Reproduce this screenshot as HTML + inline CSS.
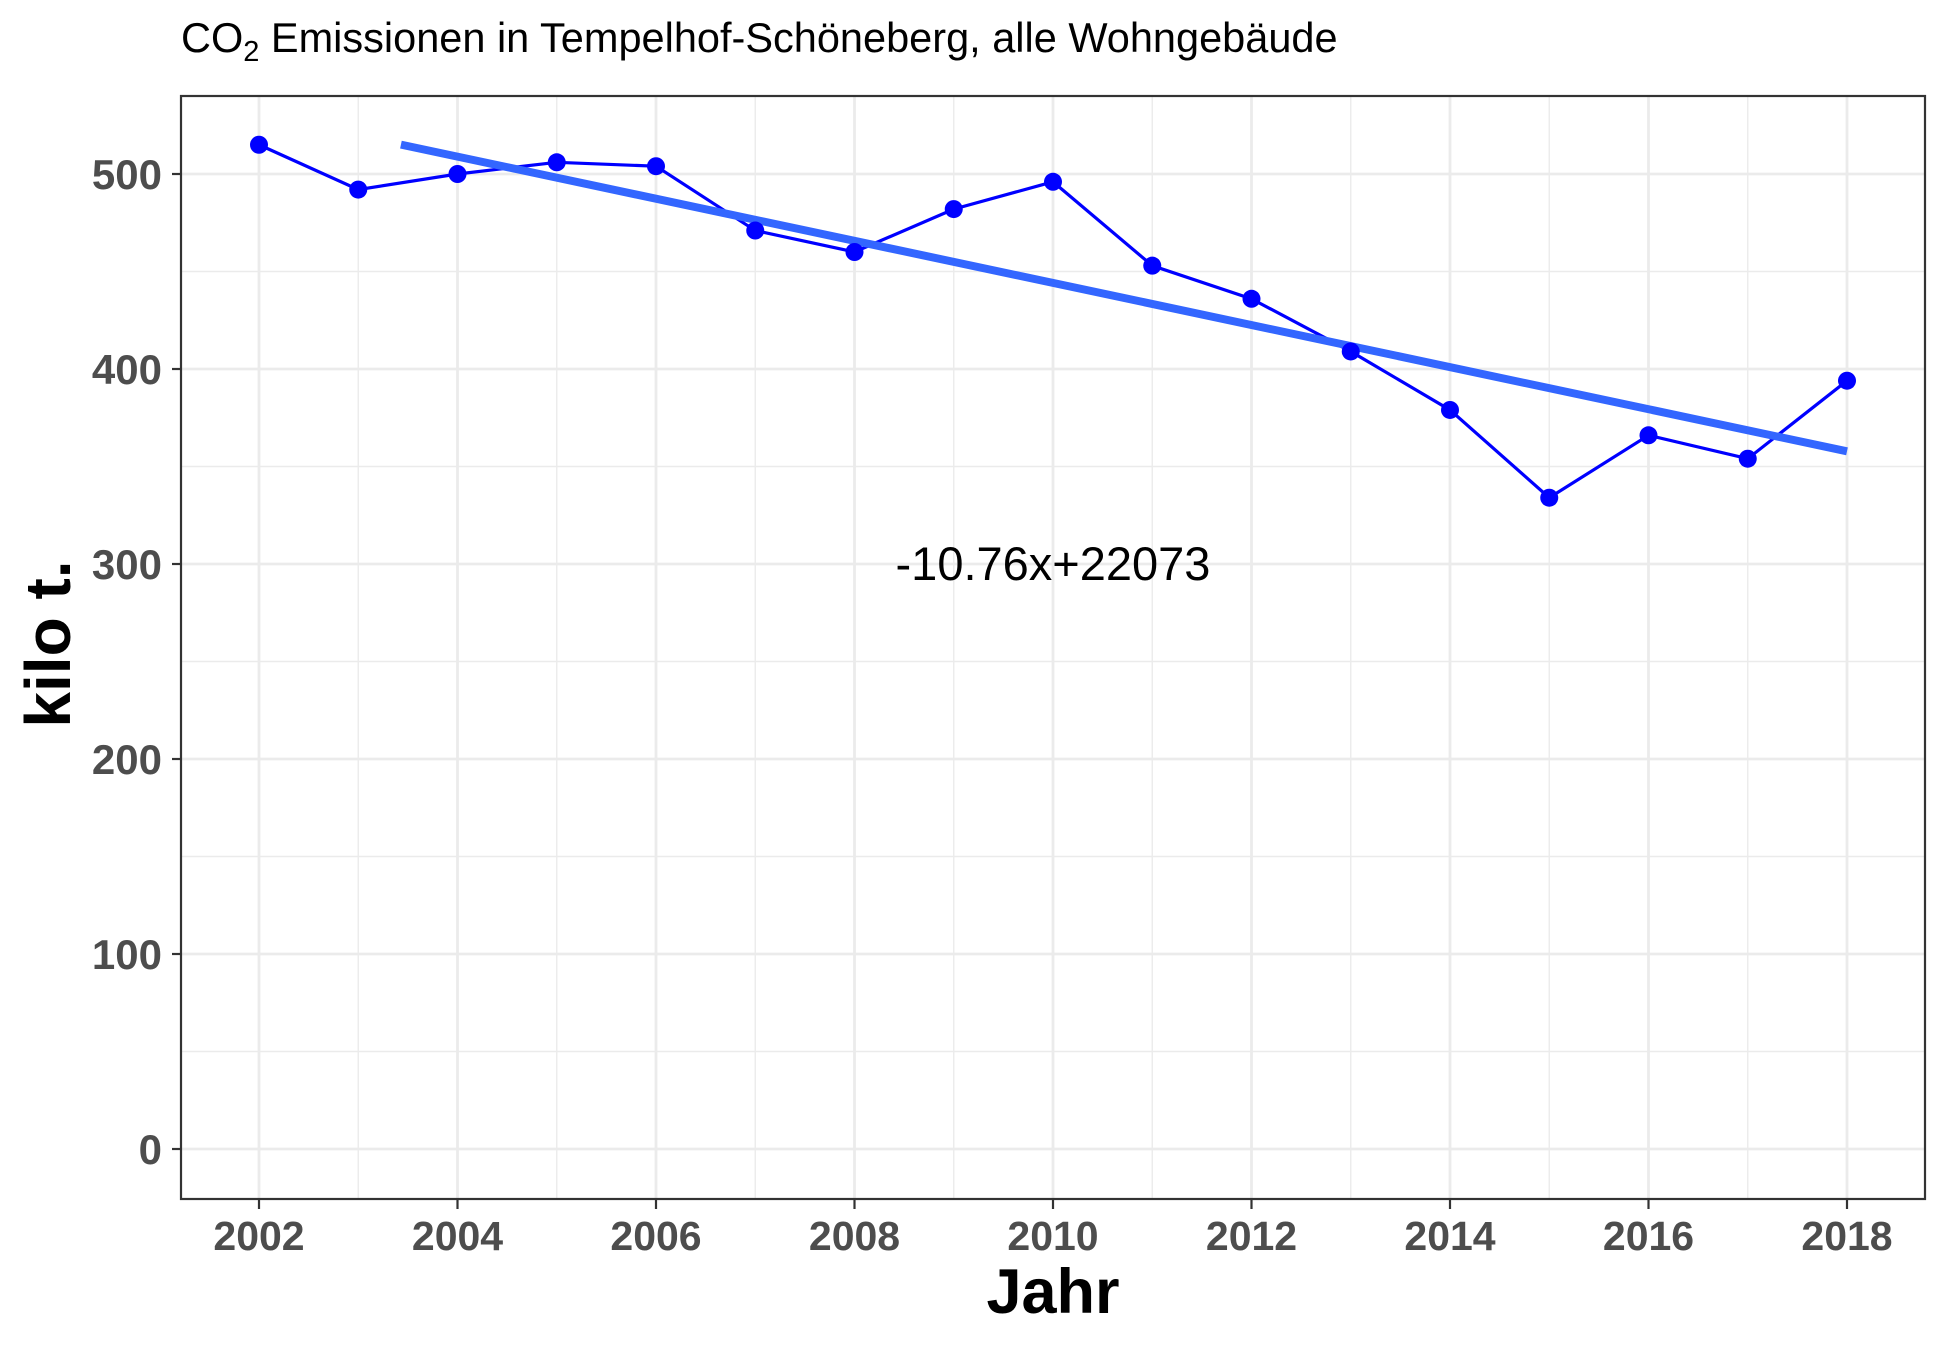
<!DOCTYPE html>
<html><head><meta charset="utf-8"><style>
html,body{margin:0;padding:0;background:#fff}
svg text{font-family:"Liberation Sans",sans-serif}
</style></head><body>
<svg id="chart" width="1950" height="1349" xmlns="http://www.w3.org/2000/svg">
<text x="181" y="52" font-size="41.5" fill="#000">CO<tspan font-size="29" dy="9">2</tspan><tspan dy="-9"> Emissionen in Tempelhof-Schöneberg, alle Wohngebäude</tspan></text>
<g id="grid"></g>
<g id="marks"></g>
<rect x="181" y="96" width="1744" height="1103" fill="none" stroke="#333" stroke-width="2.2"/>
<g id="axes"></g>
<text x="1053" y="1313" font-size="63" font-weight="bold" text-anchor="middle" fill="#000">Jahr</text>
<text transform="translate(70,644) rotate(-90)" font-size="64" font-weight="bold" text-anchor="middle" fill="#000">kilo t.</text>
</svg>
<script>
const years=[2002,2003,2004,2005,2006,2007,2008,2009,2010,2011,2012,2013,2014,2015,2016,2017,2018];
const values=[515,492,500,506,504,471,460,482,496,453,436,409,379,334,366,354,394];
const xTicks=[2002,2004,2006,2008,2010,2012,2014,2016,2018];
const yTicks=[0,100,200,300,400,500];
const slope=-10.76;
const intercept=22073;
const fitRange=[2003.43,2018];
const equationLabel="-10.76x+22073";

const NS="http://www.w3.org/2000/svg";
const L=181,R=1925,T=96,B=1199;
const X=v=>259+(v-2002)*(1847-259)/16;
const Y=v=>1149-v*1.95;
function mk(tag,attrs,parent){const e=document.createElementNS(NS,tag);for(const k in attrs)e.setAttribute(k,attrs[k]);parent.appendChild(e);return e;}
const grid=document.getElementById('grid'),marks=document.getElementById('marks'),axes=document.getElementById('axes');
for(let v=50;v<=550;v+=100){const y=Y(v);if(y<T||y>B)continue;
 const l=mk('line',{x1:L,x2:R,y1:y,y2:y,stroke:'#ebebeb','stroke-width':1.4},grid);
 
 }
for(let v=2001;v<=2019;v+=2){const x=X(v);if(x<L||x>R)continue;
 const l=mk('line',{x1:x,x2:x,y1:T,y2:B,stroke:'#ebebeb','stroke-width':1.4},grid);
 
 }
yTicks.forEach(v=>{const y=Y(v);
 const l=mk('line',{x1:L,x2:R,y1:y,y2:y,stroke:'#ebebeb','stroke-width':2.8},grid);
 
 
 const t=mk('line',{x1:L-9,x2:L,y1:y,y2:y,stroke:'#333','stroke-width':2.2},axes);
 
 
 const tx=mk('text',{x:L-19,y:y+15,'font-size':42,'font-weight':'bold','text-anchor':'end',fill:'#4d4d4d'},axes);
 tx.textContent=v;
 
 });
xTicks.forEach(v=>{const x=X(v);
 const l=mk('line',{x1:x,x2:x,y1:T,y2:B,stroke:'#ebebeb','stroke-width':2.8},grid);
 
 
 const t=mk('line',{x1:x,x2:x,y1:B,y2:B+10,stroke:'#333','stroke-width':2.2},axes);
 
 
 const tx=mk('text',{x:x,y:B+51,'font-size':41,'font-weight':'bold','text-anchor':'middle',fill:'#4d4d4d'},axes);
 tx.textContent=v;
 
 });
const pl=mk('polyline',{points:years.map((y,i)=>X(y)+','+Y(values[i])).join(' '),fill:'none',stroke:'#0000ff','stroke-width':3.2},marks);


const fy=x=>slope*x+intercept;
const rl=mk('line',{x1:X(fitRange[0]),y1:Y(fy(fitRange[0]))+2,x2:X(fitRange[1]),y2:Y(fy(fitRange[1]))+3,stroke:'#3366ff','stroke-width':8},marks);


years.forEach((y,i)=>{const c=mk('circle',{cx:X(y),cy:Y(values[i]),r:9,fill:'#0000ff'},marks);
 
 });
const eq=mk('text',{x:X(2010),y:Y(300)+16,'font-size':47,'text-anchor':'middle',fill:'#000'},marks);
eq.textContent=equationLabel;


</script>
</body></html>
